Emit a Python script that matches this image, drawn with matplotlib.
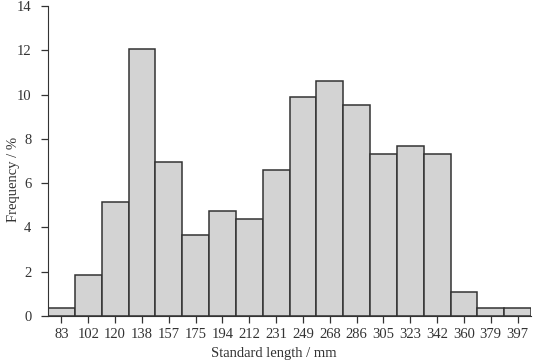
import numpy as np
import matplotlib
matplotlib.use('Agg')
import matplotlib.pyplot as plt

plt.rcParams['font.family'] = ['Liberation Serif', 'DejaVu Serif']

lengths = ['83', '102', '120', '138', '157', '175', '194', '212', '231',
           '249', '268', '286', '305', '323', '342', '360', '379', '397']
freq = [0.37, 1.84, 5.13, 12.07, 6.96, 3.66, 4.76, 4.39, 6.59,
        9.88, 10.63, 9.51, 7.32, 7.69, 7.32, 1.10, 0.37, 0.37]

fig = plt.figure(figsize=(5.33, 3.62), dpi=100)
ax = fig.add_axes([48/533, 1-316/362, 483/533, 310/362])
x = np.arange(len(lengths))
ax.bar(x, freq, width=1.0, color='#d3d3d3', edgecolor='#333333', linewidth=1.1)
ax.set_xlim(-0.5, len(lengths)-0.5)
ax.set_ylim(0, 14)
ax.set_yticks(range(0, 15, 2))
ax.set_xticks(x)
ax.set_xticklabels(lengths)
ax.spines['top'].set_visible(False)
ax.spines['right'].set_visible(False)
for s in ('left', 'bottom'):
    ax.spines[s].set_color('#333333')
ax.tick_params(axis='both', labelsize=10.5, colors='#333333', length=5, width=0.9)
ax.tick_params(axis='x', pad=4)
ax.tick_params(axis='y', pad=7)
ax.set_xlabel('Standard length / mm', fontsize=10.5, color='#333333')
ax.set_ylabel('Frequency / %', fontsize=10.5, color='#333333')
ax.xaxis.set_label_coords(0.468, -0.1)
ax.yaxis.set_label_coords(-0.058, 0.44)
fig.savefig('out.png', dpi=100)
